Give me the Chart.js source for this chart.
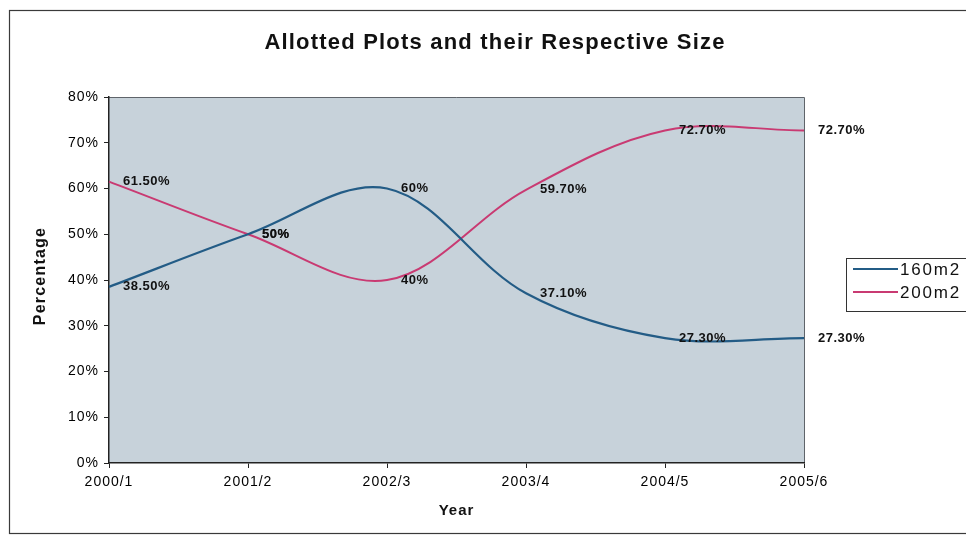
<!DOCTYPE html>
<html>
<head>
<meta charset="utf-8">
<script src="https://cdn.jsdelivr.net/npm/chart.js@4.4.1/dist/chart.umd.min.js"></script>
<style>
  html, body { margin: 0; padding: 0; background: #ffffff; }
  #wrap { width: 966px; height: 538px; }
</style>
</head>
<body>
<div id="wrap"><canvas id="c" width="966" height="538"></canvas></div>
<script>
// Share of allotted plots by plot size, per financial year
const years = ['2000/1', '2001/2', '2002/3', '2003/4', '2004/5', '2005/6'];
const plots160 = [38.5, 50, 60, 37.1, 27.3, 27.3];
const plots200 = [61.5, 50, 40, 59.7, 72.7, 72.7];
const seriesNames = ['160m2', '200m2'];
const yTicks = [0, 10, 20, 30, 40, 50, 60, 70, 80];

const FONT = '"Liberation Sans", Arial, sans-serif';
const BLUE = '#235c86';
const PINK = '#c93a72';

function fmtPct(v) {
  return (Number.isInteger(v) ? String(v) : v.toFixed(2)) + '%';
}

// Frame, plot background, titles, value labels and legend
const decor = {
  id: 'decor',
  beforeDraw(chart) {
    const ctx = chart.ctx;
    const a = chart.chartArea;
    ctx.letterSpacing = '1px';
    ctx.save();
    ctx.fillStyle = '#ffffff';
    ctx.fillRect(0, 0, chart.width, chart.height);
    // outer frame
    ctx.strokeStyle = '#3a3a3a';
    ctx.lineWidth = 1.2;
    ctx.strokeRect(9.5, 10.5, 970, 523);
    // plot background
    ctx.fillStyle = '#c7d2da';
    ctx.fillRect(a.left, a.top, a.right - a.left, a.bottom - a.top);
    ctx.strokeStyle = '#5f646a';
    ctx.lineWidth = 1;
    ctx.beginPath();
    ctx.moveTo(a.left, a.top + 0.5);
    ctx.lineTo(a.right + 0.5, a.top + 0.5);
    ctx.lineTo(a.right + 0.5, a.bottom);
    ctx.stroke();
    ctx.restore();
  },
  afterDatasetsDraw(chart) {
    const ctx = chart.ctx;
    const a = chart.chartArea;
    ctx.save();
    ctx.fillStyle = '#111111';
    // value labels beside each point
    ctx.font = 'bold 13px ' + FONT;
    ctx.letterSpacing = '0.5px';
    ctx.textAlign = 'left';
    ctx.textBaseline = 'middle';
    chart.data.datasets.forEach((ds, di) => {
      const meta = chart.getDatasetMeta(di);
      meta.data.forEach((pt, i) => {
        ctx.fillText(fmtPct(ds.data[i]), pt.x + 14, pt.y);
      });
    });
    // chart title
    ctx.font = 'bold 22px ' + FONT;
    ctx.textAlign = 'center';
    ctx.letterSpacing = '1.2px';
    ctx.fillText('Allotted Plots and their Respective Size', 495, 43);
    // axis titles
    ctx.font = 'bold 15px ' + FONT;
    ctx.letterSpacing = '1px';
    ctx.fillText('Year', (a.left + a.right) / 2, 511);
    ctx.save();
    ctx.translate(41, 276);
    ctx.rotate(-Math.PI / 2);
    ctx.font = 'bold 16px ' + FONT;
    ctx.letterSpacing = '1.2px';
    ctx.fillText('Percentage', 0, 0);
    ctx.restore();
    // legend
    ctx.strokeStyle = '#333333';
    ctx.lineWidth = 1;
    ctx.strokeRect(846.5, 258.5, 130, 53);
    ctx.font = '17px ' + FONT;
    ctx.letterSpacing = '1.8px';
    ctx.textAlign = 'left';
    chart.data.datasets.forEach((ds, di) => {
      const y = 269 + di * 23;
      ctx.strokeStyle = ds.borderColor;
      ctx.lineWidth = 2;
      ctx.beginPath();
      ctx.moveTo(853, y);
      ctx.lineTo(898, y);
      ctx.stroke();
      ctx.fillStyle = '#111111';
      ctx.fillText(ds.label, 900, y + 1);
    });
    ctx.restore();
  }
};

new Chart(document.getElementById('c'), {
  type: 'line',
  data: {
    labels: years,
    datasets: [
      { label: seriesNames[0], data: plots160, borderColor: BLUE, backgroundColor: BLUE,
        borderWidth: 2.2, pointRadius: 0, tension: 0.35, fill: false },
      { label: seriesNames[1], data: plots200, borderColor: PINK, backgroundColor: PINK,
        borderWidth: 2, pointRadius: 0, tension: 0.35, fill: false }
    ]
  },
  options: {
    responsive: false,
    devicePixelRatio: 1,
    animation: false,
    layout: { padding: { left: 0, right: 162, top: 97, bottom: 0 } },
    plugins: { legend: { display: false }, title: { display: false }, tooltip: { enabled: false } },
    scales: {
      x: {
        type: 'category',
        offset: false,
        grid: { drawOnChartArea: false, tickLength: 5, color: '#222222' },
        border: { color: '#222222', width: 1.5 },
        ticks: { color: '#000000', font: { family: FONT, size: 14 }, padding: 6, maxRotation: 0, autoSkip: false },
        afterFit(scale) { scale.height = 75; }
      },
      y: {
        min: yTicks[0],
        max: yTicks[yTicks.length - 1],
        afterBuildTicks(scale) { scale.ticks = yTicks.map(v => ({ value: v })); },
        grid: { drawOnChartArea: false, tickLength: 5, color: '#222222' },
        border: { color: '#222222', width: 1.5 },
        ticks: { color: '#000000', font: { family: FONT, size: 14 }, padding: 5, callback: v => v + '%' },
        afterFit(scale) { scale.width = 109; }
      }
    }
  },
  plugins: [decor]
});
</script>
</body>
</html>
